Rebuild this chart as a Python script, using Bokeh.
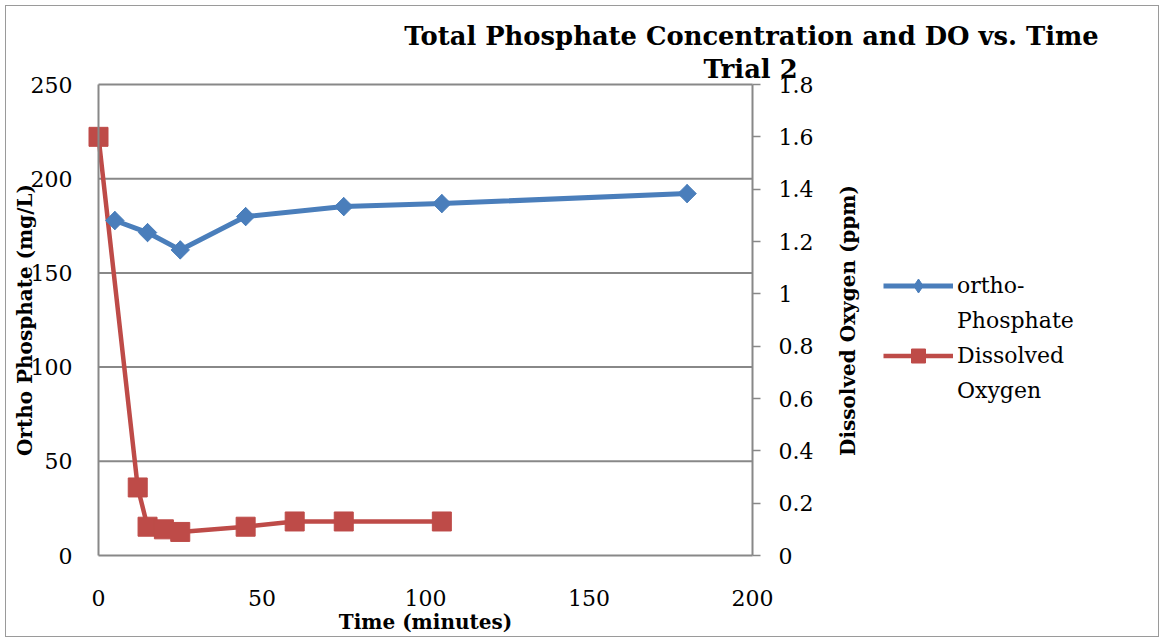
import math
from bokeh.plotting import figure
from bokeh.models import (Range1d, LinearAxis, Legend, LegendItem, Label,
                          FixedTicker, CustomJSTickFormatter)
from bokeh.embed import file_html
from bokeh.resources import INLINE

# ---------------- data ----------------
po4_time = [5, 15, 25, 45, 75, 105, 180]
ortho_phosphate = [177.8, 171.4, 162.2, 179.9, 185.2, 186.8, 192.1]
do_time = [0, 12, 15, 20, 25, 45, 60, 75, 105]
dissolved_oxygen = [1.60, 0.26, 0.11, 0.10, 0.09, 0.11, 0.13, 0.13, 0.13]
x_ticks = [0, 50, 100, 150, 200]
left_ticks = [0, 50, 100, 150, 200, 250]
right_ticks = [0, 0.2, 0.4, 0.6, 0.8, 1.0, 1.2, 1.4, 1.6, 1.8]
title_lines = ["Total Phosphate Concentration and DO vs. Time", "Trial 2"]
x_title = "Time (minutes)"
left_title = "Ortho Phosphate (mg/L)"
right_title = "Dissolved Oxygen (ppm)"
po4_legend = ["ortho-", "Phosphate"]
do_legend = ["Dissolved", "Oxygen"]

X_MAX, Y_MAX, DO_MAX = 200, 250, 1.8

# ---------------- layout (canvas px) ----------------
W, H = 1154, 632
AX_L, AX_R, AX_T, AX_B = 92, 746, 78, 549   # pixels of x=0, x=200, y=250, y=0
SX = (AX_R - AX_L) / X_MAX
SY = (AX_B - AX_T) / Y_MAX


def dx(px):
    return (px - AX_L) / SX


def dy(py):
    return (AX_B - py) / SY


BLUE = "#4A7EBB"
RED = "#BE4B48"
GREY = "#888888"
SERIF = "DejaVu Serif"

# the frame covers the whole canvas; axes are drawn at fixed data locations
p = figure(width=W, height=H,
           x_range=Range1d(dx(0), dx(W)), y_range=Range1d(dy(H), dy(0)),
           output_backend="svg", toolbar_location=None,
           min_border_left=0, min_border_right=0,
           min_border_top=0, min_border_bottom=0,
           background_fill_color="white", border_fill_color="white",
           outline_line_color=None)
p.title.visible = False
p.styles = {"margin-left": "5px", "margin-top": "5px",
            "border": "1px solid #9a9a9a"}
p.xgrid.visible = False
p.ygrid.visible = False
p.extra_y_ranges = {"do": Range1d(DO_MAX * dy(H) / Y_MAX,
                                  DO_MAX * dy(0) / Y_MAX)}

xa = p.xaxis[0]
xa.ticker = FixedTicker(ticks=x_ticks)
xa.bounds = (0, X_MAX)
xa.fixed_location = 0
ya = p.yaxis[0]
ya.ticker = FixedTicker(ticks=left_ticks)
ya.bounds = (0, Y_MAX)
ya.fixed_location = 0
ra = LinearAxis(y_range_name="do", ticker=FixedTicker(ticks=right_ticks),
                bounds=(0, DO_MAX), fixed_location=X_MAX,
                formatter=CustomJSTickFormatter(
                    code="return tick.toFixed(1).replace(/\\.0$/, '');"))
p.add_layout(ra, "right")
for ax in (xa, ya, ra):
    ax.axis_line_color = GREY
    ax.axis_line_width = 2
    ax.major_tick_in = 0
    ax.major_tick_out = 0
    ax.minor_tick_line_color = None
    ax.major_label_text_font = SERIF
    ax.major_label_text_font_size = "22px"
    ax.major_label_text_color = "black"
    ax.axis_label_text_font = SERIF
    ax.axis_label_text_font_style = "bold"
    ax.axis_label_text_font_size = "20px"
    ax.axis_label_text_color = "black"
ra.major_tick_out = 8
ra.major_tick_line_color = GREY
ra.major_tick_line_width = 1.5
xa.major_label_standoff = 34
ya.major_label_standoff = 26
ra.major_label_standoff = 18
xa.axis_label = x_title
ya.axis_label = left_title
xa.axis_label_standoff = 1
ya.axis_label_standoff = -9

# horizontal gridlines at the left-axis ticks, between the two y axes
grid_y = left_ticks[1:]
p.segment(x0=[x_ticks[0]] * len(grid_y), y0=grid_y,
          x1=[x_ticks[-1]] * len(grid_y), y1=grid_y,
          line_color=GREY, line_width=2)

# right-axis title
p.add_layout(Label(x=dx(841), y=dy(314), text=right_title, angle=math.pi / 2,
                   text_align="center", text_baseline="middle",
                   text_font=SERIF, text_font_style="bold",
                   text_font_size="20px", text_color="black"))

# chart title (two centred lines)
p.add_layout(Label(x=dx(745), y=dy(29), text=title_lines[0],
                   text_align="center", text_baseline="alphabetic",
                   text_font=SERIF, text_font_style="bold",
                   text_font_size="25.8px", text_color="black"))
p.add_layout(Label(x=dx(744), y=dy(62), text=title_lines[1],
                   text_align="center", text_baseline="alphabetic",
                   text_font=SERIF, text_font_style="bold",
                   text_font_size="25.8px", text_color="black"))

# series
r_line = p.line(do_time, dissolved_oxygen, y_range_name="do",
                line_color=RED, line_width=4.5)
r_pts = p.scatter(do_time, dissolved_oxygen, y_range_name="do",
                  marker="square", size=19, color=RED)
b_line = p.line(po4_time, ortho_phosphate, line_color=BLUE, line_width=5)
# diamond key (hidden beneath the rotated squares) supplies the legend glyph
b_key = p.scatter(po4_time, ortho_phosphate, marker="diamond",
                  size=18, color=BLUE)
b_pts = p.scatter(po4_time, ortho_phosphate, marker="square",
                  angle=math.pi / 4, size=13, color=BLUE)
dummy = p.line(x=[], y=[], line_alpha=0)

ITEM_H = 35
leg_top = 262
legend = Legend(
    items=[LegendItem(label=po4_legend[0], renderers=[b_line, b_key]),
           LegendItem(label=po4_legend[1], renderers=[dummy]),
           LegendItem(label=do_legend[0], renderers=[r_line, r_pts]),
           LegendItem(label=do_legend[1], renderers=[dummy])],
    location=(877, H - (leg_top + 4 * ITEM_H)),
    padding=0, margin=0, spacing=0,
    border_line_color=None, background_fill_alpha=0,
    glyph_width=70, glyph_height=ITEM_H, label_height=ITEM_H,
    label_standoff=4, label_text_font=SERIF,
    label_text_font_size="22px", label_text_color="black")
p.add_layout(legend)

open("out.html", "w").write(file_html(p, INLINE))
